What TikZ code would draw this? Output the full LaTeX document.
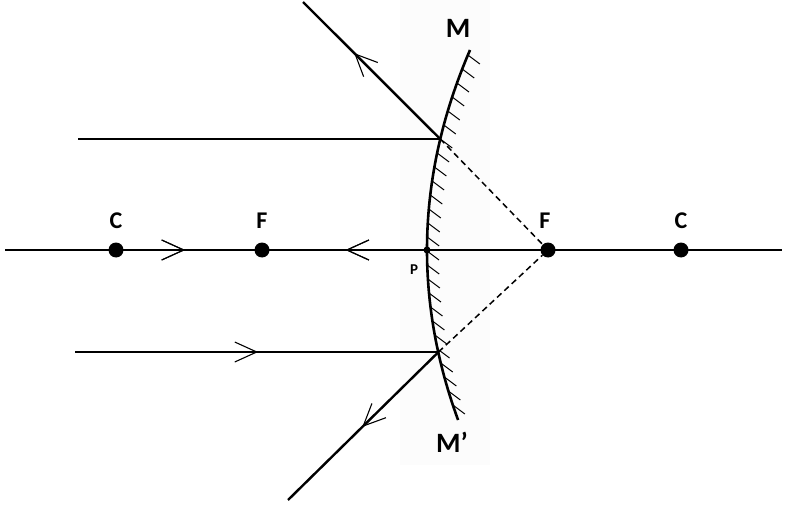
\documentclass[tikz,border=0pt]{standalone}
\usepackage{fontspec}
\setmainfont{Carlito}
\usetikzlibrary{decorations.markings}
\begin{document}
\begin{tikzpicture}[x=1pt,y=-1pt,
 ray/.style={line width=2.4pt},
 chev/.style={postaction={decorate},decoration={markings,mark=at position #1 with {\draw[line width=1.1pt,line join=miter] (-22pt,-10pt) -- (0pt,0pt) -- (-22pt,10pt);}}},
 rchev/.style={postaction={decorate},decoration={markings,mark=at position #1 with {\draw[line width=1.1pt,line join=miter] (22pt,-10pt) -- (0pt,0pt) -- (22pt,10pt);}}},
 dot/.style={circle,fill=black,inner sep=0pt,minimum size=15pt},
 lbl/.style={font=\bfseries\fontsize{24}{24}\selectfont},
 dashray/.style={line width=1.5pt,dash pattern=on 6pt off 4pt}]
\useasboundingbox (0,0) rectangle (787,505);
\fill[black!1] (400,0) rectangle (490,465);
\coordinate (L) at (5,250);
\coordinate (R) at (782,250);
\coordinate (U) at (440.2,139);
\coordinate (D) at (438.5,352);
\coordinate (Ustart) at (78,139);
\coordinate (Dstart) at (75,352);
\coordinate (Uend) at (303,2);
\coordinate (Dend) at (288,500);
\draw[ray,chev=0.23,rchev=0.44] (L) -- (R);
\node[dot] (C1) at (116,250) {};
\node[dot] (F1) at (262,250) {};
\node[dot] (F2) at (548,250) {};
\node[dot] (C2) at (681,250) {};
\node[circle,fill=black,inner sep=0pt,minimum size=7pt] (P) at (427,250) {};
\node[lbl] at (116,221) {C};
\node[lbl] at (262,221) {F};
\node[lbl] at (545,221) {F};
\node[lbl] at (681,221) {C};
\node[font=\bfseries\fontsize{15}{15}\selectfont] at (414,270) {P};
\node[font=\bfseries\fontsize{28}{28}\selectfont] at (458,28) {M};
\node[font=\bfseries\fontsize{28}{28}\selectfont] at (452,442) {M’};
\draw[line width=2.6pt] plot[domain=-200:170,samples=60] ({427+(0.03279*\x)*(0.03279*\x)},{250+\x});
\foreach \d in {-195,-181,...,165}{
  \draw[line width=1pt] ({427+(0.03279*\d)*(0.03279*\d)},{250+\d}) -- ++(12,9);
}
\draw[ray] (Ustart) -- (U);
\draw[ray,chev=0.62] (U) -- (Uend);
\draw[ray,chev=0.5] (Dstart) -- (D);
\draw[ray,chev=0.5] (D) -- (Dend);
\draw[dashray] (U) -- (F2);
\draw[dashray] (D) -- (F2);
\end{tikzpicture}
\end{document}
